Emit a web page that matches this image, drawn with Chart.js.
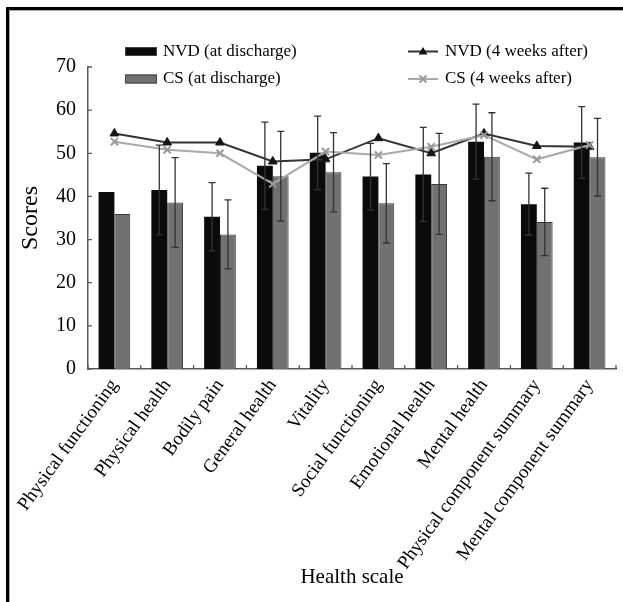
<!DOCTYPE html>
<html>
<head>
<meta charset="utf-8">
<script src="https://cdn.jsdelivr.net/npm/chart.js@4"></script>
<style>
  html, body { margin: 0; padding: 0; background: #fff; }
  #wrap { position: relative; width: 623px; height: 602px; }
</style>
</head>
<body>
<div id="wrap"><canvas id="scores" width="623" height="602"></canvas></div>
<script>
const categories = [
  "Physical functioning",
  "Physical health",
  "Bodily pain",
  "General health",
  "Vitality",
  "Social functioning",
  "Emotional health",
  "Mental health",
  "Physical component summary",
  "Mental component summary",
];

const nvdDischarge = [41.0, 41.5, 35.3, 47.1, 50.1, 44.6, 45.1, 52.7, 38.2, 52.5];
const nvdDischargeSD = [null, 10.4, 7.9, 10.1, 8.5, 7.7, 10.9, 8.7, 7.2, 8.3];
const csDischarge = [35.9, 38.6, 31.2, 44.7, 45.6, 38.4, 42.9, 49.2, 34.1, 49.1];
const csDischargeSD = [null, 10.4, 8.0, 10.4, 9.2, 9.2, 11.7, 10.2, 7.8, 9.0];
const nvdFourWeeks = [54.6, 52.5, 52.5, 48.1, 48.6, 53.5, 50.0, 54.6, 51.7, 51.5];
const csFourWeeks = [52.7, 50.8, 50.0, 42.9, 50.4, 49.6, 51.5, 54.2, 48.6, 51.9];

const yTicks = [0, 10, 20, 30, 40, 50, 60, 70];

const serif = "Liberation Serif";
const axisColor = "#5a5a5a";

// outer double frame (left + top only, the rest is cut off)
const framePlugin = {
  id: "frame",
  beforeDraw(chart) {
    const c = chart.ctx;
    c.save();
    c.fillStyle = "#fff";
    c.fillRect(0, 0, chart.width, chart.height);
    c.fillStyle = "#000";
    c.fillRect(6, 7, chart.width, 3);
    c.fillRect(6, 7, 3, chart.height);
    c.fillStyle = "#aaa";
    c.fillRect(9, 10, chart.width, 1);
    c.fillRect(9, 10, 1, chart.height);
    c.restore();
  },
};

// short tick marks pointing into the plot
const innerTicks = {
  id: "innerTicks",
  afterDraw(chart) {
    const c = chart.ctx;
    const x = chart.scales.x;
    const y = chart.scales.y;
    c.save();
    c.strokeStyle = axisColor;
    c.lineWidth = 1.3;
    c.beginPath();
    yTicks.forEach((v) => {
      const py = y.getPixelForValue(v);
      c.moveTo(x.left, py);
      c.lineTo(x.left + 4, py);
    });
    const half = (x.getPixelForValue(1) - x.getPixelForValue(0)) / 2;
    for (let i = 0; i <= categories.length; i++) {
      const px = x.getPixelForValue(i) - half;
      c.moveTo(px, y.bottom);
      c.lineTo(px, y.bottom - 4);
    }
    c.stroke();
    c.restore();
  },
};

// error bars on top of the discharge bars
const errorBars = {
  id: "errorBars",
  afterDatasetsDraw(chart) {
    const c = chart.ctx;
    const y = chart.scales.y;
    c.save();
    c.strokeStyle = "#333";
    c.lineWidth = 1.3;
    chart.data.datasets.forEach((ds, di) => {
      if (!ds.sd) return;
      const meta = chart.getDatasetMeta(di);
      meta.data.forEach((bar, i) => {
        const sd = ds.sd[i];
        if (sd == null) return;
        const top = y.getPixelForValue(ds.data[i] + sd);
        const bot = y.getPixelForValue(ds.data[i] - sd);
        c.beginPath();
        c.moveTo(bar.x, top);
        c.lineTo(bar.x, bot);
        c.moveTo(bar.x - 3.5, top);
        c.lineTo(bar.x + 3.5, top);
        c.moveTo(bar.x - 3.5, bot);
        c.lineTo(bar.x + 3.5, bot);
        c.stroke();
      });
    });
    c.restore();
  },
};

// two-column legend like the original
const legendPlugin = {
  id: "twoColLegend",
  afterDraw(chart) {
    const c = chart.ctx;
    const ds = chart.data.datasets;
    const rows = [51.5, 79];
    c.save();
    c.font = "17px " + serif;
    c.textBaseline = "middle";
    c.fillStyle = "#000";
    // bars on the left
    [0, 1].forEach((k) => {
      const d = ds[k];
      c.fillStyle = d.backgroundColor;
      c.fillRect(125, rows[k] - 4.5, 32, 9);
      c.strokeStyle = "#444";
      c.lineWidth = 1;
      c.strokeRect(125.5, rows[k] - 4, 31, 8);
      c.fillStyle = "#000";
      c.fillText(d.label, 163, rows[k]);
    });
    // lines on the right
    [2, 3].forEach((k, r) => {
      const d = ds[k];
      const yy = rows[r];
      c.strokeStyle = d.borderColor;
      c.lineWidth = 2;
      c.beginPath();
      c.moveTo(408, yy);
      c.lineTo(438, yy);
      c.stroke();
      if (d.pointStyle === "triangle") {
        c.fillStyle = d.pointBackgroundColor;
        c.beginPath();
        c.moveTo(423, yy - 4.5);
        c.lineTo(427.5, yy + 3);
        c.lineTo(418.5, yy + 3);
        c.closePath();
        c.fill();
      } else {
        c.strokeStyle = d.pointBorderColor;
        c.beginPath();
        c.moveTo(419.5, yy - 3.5);
        c.lineTo(426.5, yy + 3.5);
        c.moveTo(426.5, yy - 3.5);
        c.lineTo(419.5, yy + 3.5);
        c.stroke();
      }
      c.fillStyle = "#000";
      c.fillText(d.label, 445, yy);
    });
    c.restore();
  },
};

new Chart(document.getElementById("scores").getContext("2d"), {
  type: "bar",
  data: {
    labels: categories,
    datasets: [
      {
        label: "NVD (at discharge)",
        data: nvdDischarge,
        sd: nvdDischargeSD,
        backgroundColor: "#0b0b0b",
        borderColor: "#0b0b0b",
        borderWidth: 0,
        categoryPercentage: 0.6,
        barPercentage: 1.0,
        order: 2,
      },
      {
        label: "CS (at discharge)",
        data: csDischarge,
        sd: csDischargeSD,
        backgroundColor: "#717171",
        borderColor: "#3a3a3a",
        borderWidth: 1,
        categoryPercentage: 0.6,
        barPercentage: 1.0,
        order: 2,
      },
      {
        type: "line",
        label: "NVD (4 weeks after)",
        data: nvdFourWeeks,
        borderColor: "#333",
        borderWidth: 2,
        pointStyle: "triangle",
        pointRadius: 5,
        pointBackgroundColor: "#151515",
        pointBorderColor: "#151515",
        pointBorderWidth: 1,
        tension: 0,
        order: 1,
      },
      {
        type: "line",
        label: "CS (4 weeks after)",
        data: csFourWeeks,
        borderColor: "#a9a9a9",
        borderWidth: 2,
        pointStyle: "crossRot",
        pointRadius: 5,
        pointBorderColor: "#999",
        pointBorderWidth: 2,
        tension: 0,
        order: 0,
      },
    ],
  },
  options: {
    responsive: false,
    animation: false,
    events: [],
    layout: {
      padding: { top: 67, left: 0, right: 1, bottom: 0 },
    },
    plugins: {
      legend: { display: false },
      tooltip: { enabled: false },
    },
    scales: {
      x: {
        offset: true,
        grid: { display: false, drawTicks: false },
        border: { display: true, color: axisColor, width: 1.5 },
        ticks: {
          autoSkip: false,
          minRotation: 54,
          maxRotation: 54,
          padding: 6,
          color: "#000",
          font: { family: serif, size: 19 },
        },
        title: {
          display: true,
          text: "Health scale",
          color: "#000",
          font: { family: serif, size: 21 },
          padding: { top: 0, bottom: 12 },
        },
        afterFit(scale) {
          scale.height = 233;
        },
      },
      y: {
        min: 0,
        max: 70,
        grid: { display: false, drawTicks: false },
        border: { display: true, color: axisColor, width: 1.5 },
        ticks: {
          stepSize: 10,
          padding: 12,
          color: "#000",
          font: { family: serif, size: 20 },
        },
        title: {
          display: true,
          text: "Scores",
          color: "#000",
          font: { family: serif, size: 24 },
          padding: { top: 16, bottom: 0 },
        },
        afterFit(scale) {
          scale.width = 88;
        },
      },
    },
  },
  plugins: [framePlugin, innerTicks, errorBars, legendPlugin],
});
</script>
</body>
</html>
